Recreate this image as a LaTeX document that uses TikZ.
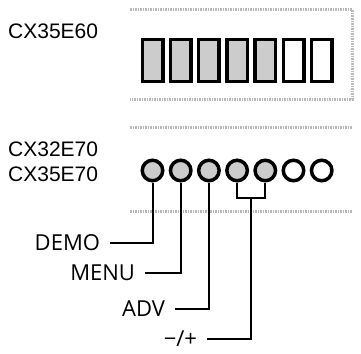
\documentclass[tikz,border=0pt]{standalone}
\usepackage{fontspec}
\setmainfont{Liberation Sans}
\newfontfamily\btnfont{Open Sans}
\tikzset{
  panel/.style={gray!55, line width=3pt, dash pattern=on 1.5pt off 1pt},
  seg/.style={draw, line width=3.5pt, minimum width=20.5pt, minimum height=41.5pt, inner sep=0pt},
  lamp/.style={circle, draw, line width=3.5pt, minimum size=20.5pt, inner sep=0pt},
  lit/.style={fill=gray!40},
  model/.style={anchor=west, inner sep=0pt, font=\fontsize{21}{25}\selectfont},
  btnlabel/.style={anchor=east, inner sep=0pt, outer xsep=10pt, font=\btnfont\fontsize{22}{26}\selectfont},
  wire/.style={line width=2pt}
}
\begin{document}
\begin{tikzpicture}[x=1pt,y=-1pt]
    \useasboundingbox (0,0) rectangle (361,353);
    % grey outlines
    \draw[panel] (130,10) -- (352,10) -- (352,99) -- (130,99);
    \draw[panel] (130,127) -- (352,127);
    \draw[panel] (130,211) -- (352,211);
    % model names
    \node[model] (m60) at (8,31) {CX35E60};
    \node[model] (m32) at (8,149) {CX32E70};
    \node[model] (m35) at (8,174) {CX35E70};
    % display segments
    \foreach \i in {0,...,4}
        \node[seg, lit] (s\i) at (152.5+28.2*\i,60.5) {};
    \foreach \i in {5,6}
        \node[seg] (s\i) at (152.5+28.2*\i,60.5) {};
    % indicator lamps
    \foreach \i in {1,...,5}
        \node[lamp, lit] (c\i) at (152.5+28.2*\i-28.2,170.5) {};
    \foreach \i in {6,7}
        \node[lamp] (c\i) at (152.5+28.2*\i-28.2,170.5) {};
    % buttons
    \node[btnlabel] (demo) at (110,243) {DEMO};
    \node[btnlabel] (menu) at (145,273) {MENU};
    \node[btnlabel] (adv) at (175,309) {ADV};
    \node[btnlabel] (pm) at (207,339) {−/+};
    \coordinate (bm) at (251.3,198);
    \draw[wire] (demo.east) -| (c1.south);
    \draw[wire] (menu.east) -| (c2.south);
    \draw[wire] (adv.east) -| (c3.south);
    \draw[wire] (c4.south) |- (bm) -| (c5.south);
    \draw[wire] (pm.east) -| (bm);
\end{tikzpicture}
\end{document}
